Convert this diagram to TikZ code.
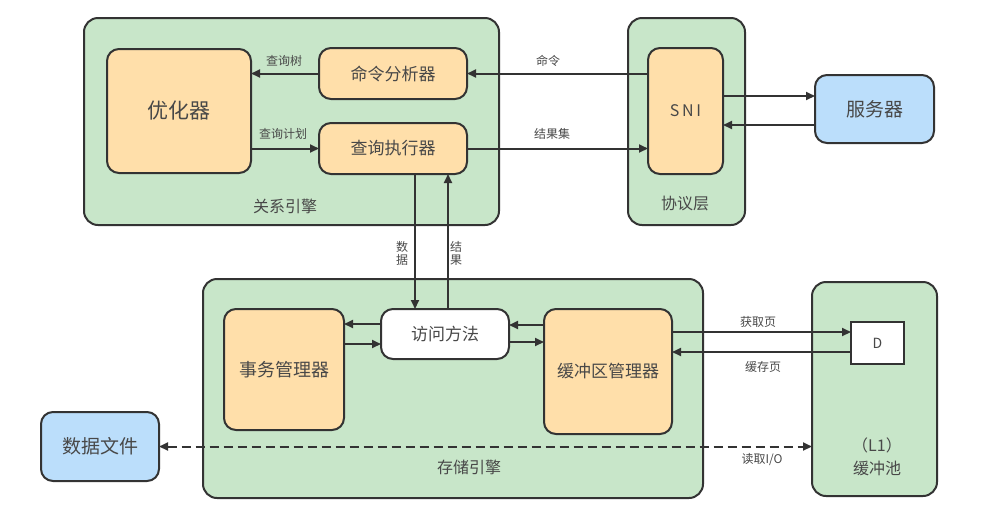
\documentclass[tikz,border=0pt]{standalone}
\usepackage{fontspec}
\setmainfont{Noto Sans CJK SC}
\usetikzlibrary{arrows.meta,positioning,calc}
\definecolor{gfill}{HTML}{C8E6C9}
\definecolor{ofill}{HTML}{FFDFAA}
\definecolor{bfill}{HTML}{BBDEFB}
\definecolor{ln}{HTML}{333333}
\definecolor{tx}{HTML}{484848}
\tikzset{
  base/.style={draw=ln, line width=2pt, inner sep=0pt, outer sep=0pt, text=tx},
  cont/.style={base, fill=gfill, rounded corners=14pt},
  inner/.style={base, fill=ofill, rounded corners=12pt},
  blue/.style={base, fill=bfill, rounded corners=12pt},
  white/.style={base, fill=white, rounded corners=12pt},
  arr/.style={draw=ln, line width=2pt, -{Triangle[length=9pt,width=8pt]}},
  lbl/.style={text=tx, font=\fontsize{12}{13}\selectfont, inner sep=0pt},
  ttl/.style={text=tx, font=\fontsize{16}{18}\selectfont, inner sep=0pt},
}
\begin{document}
\begin{tikzpicture}[x=1pt,y=-1pt]
\useasboundingbox (0,0) rectangle (999,515);
% containers
\node[cont, minimum width=415pt, minimum height=207pt] (rel) at (291.5,121.5) {};
\node[cont, minimum width=117pt, minimum height=207pt] (proto) at (686.5,121.5) {};
\node[cont, minimum width=500pt, minimum height=219pt] (store) at (453,388.5) {};
\node[cont, minimum width=125pt, minimum height=214pt] (pool) at (874.5,389) {};
% inner boxes
\node[inner, minimum width=144pt, minimum height=124pt, font=\fontsize{21}{23}\selectfont] (opt) at (179,111) {优化器};
\node[inner, minimum width=148pt, minimum height=51pt, font=\fontsize{17}{19}\selectfont] (cmd) at (393,73.5) {命令分析器};
\node[inner, minimum width=148pt, minimum height=51pt, font=\fontsize{17}{19}\selectfont] (exe) at (393,148.5) {查询执行器};
\node[inner, minimum width=75pt, minimum height=126pt, font=\fontsize{16}{18}\selectfont] (sni) at (685.5,111) {S\,N\,I};
\node[blue, minimum width=119pt, minimum height=68pt, font=\fontsize{19}{21}\selectfont] (srv) at (874.5,109) {服务器};
\node[inner, minimum width=120pt, minimum height=121pt, font=\fontsize{18}{20}\selectfont] (txm) at (284,369.5) {事务管理器};
\node[white, minimum width=128pt, minimum height=50pt, font=\fontsize{17}{19}\selectfont] (acc) at (445,334) {访问方法};
\node[inner, minimum width=128pt, minimum height=125pt, font=\fontsize{17}{19}\selectfont] (buf) at (608,371.5) {缓冲区管理器};
\node[base, fill=white, minimum width=53pt, minimum height=42pt, font=\fontsize{14}{16}\selectfont] (dpg) at (877.5,343) {D};
\node[blue, minimum width=118pt, minimum height=69pt, font=\fontsize{19}{21}\selectfont] (file) at (100,446.5) {数据文件};
% container titles
\node[ttl] (trel) at (285,206) {关系引擎};
\node[ttl] (tproto) at (685,203) {协议层};
\node[ttl] (tstore) at (469,467) {存储引擎};
\node[ttl] (tpool1) at (877,445) {（L1）};
\node[ttl] (tpool2) at (877,468) {缓冲池};
% helper coordinates
\coordinate (s1) at ([yshift=15pt]sni.east);
\coordinate (s2) at ([yshift=-16pt]srv.west);
\coordinate (v1) at ([xshift=22pt]exe.south);
\coordinate (v2) at ([xshift=3pt]acc.north);
\coordinate (a1) at ([yshift=10pt]acc.west);
\coordinate (a2) at ([yshift=-10pt]acc.west);
\coordinate (a3) at ([yshift=9pt]acc.east);
\coordinate (a4) at ([yshift=-8pt]acc.east);
\coordinate (d1) at ([yshift=11pt]dpg.west);
\coordinate (d2) at ([yshift=-9pt]dpg.west);
% arrows top
\draw[arr] (cmd.west) -- (opt.east |- cmd.west);
\draw[arr] (opt.east |- exe.west) -- (exe.west);
\draw[arr] (sni.west |- cmd.east) -- (cmd.east);
\draw[arr] (exe.east) -- (sni.west |- exe.east);
\draw[arr] (s1) -- (srv.west |- s1);
\draw[arr] (s2) -- (sni.east |- s2);
\node[lbl] (l1) at (284,61) {查询树};
\node[lbl] (l2) at (283,134) {查询计划};
\node[lbl] (l3) at (548,61) {命令};
\node[lbl] (l4) at (552,134) {结果集};
% vertical
\draw[arr] (v1) -- (acc.north -| v1);
\draw[arr] (v2) -- (exe.south -| v2);
\node[lbl, align=center] (l5) at (402,253) {数\\据};
\node[lbl, align=center] (l6) at (456,253) {结\\果};
% storage arrows
\draw[arr] (a1) -- (txm.east |- a1);
\draw[arr] (txm.east |- a2) -- (a2);
\draw[arr] (buf.west |- a3) -- (a3);
\draw[arr] (a4) -- (buf.west |- a4);
\draw[arr] (buf.east |- d1) -- (d1);
\draw[arr] (d2) -- (buf.east |- d2);
\node[lbl] (l7) at (758,322) {获取页};
\node[lbl] (l8) at (763,367) {缓存页};
% dashed
\draw[draw=ln, line width=2pt, dash pattern=on 9pt off 5pt, {Triangle[length=9pt,width=8pt]}-{Triangle[length=9pt,width=8pt]}] (file.east) -- (pool.west |- file.east);
\node[lbl] (l9) at (762,460) {读取I/O};
\end{tikzpicture}
\end{document}
